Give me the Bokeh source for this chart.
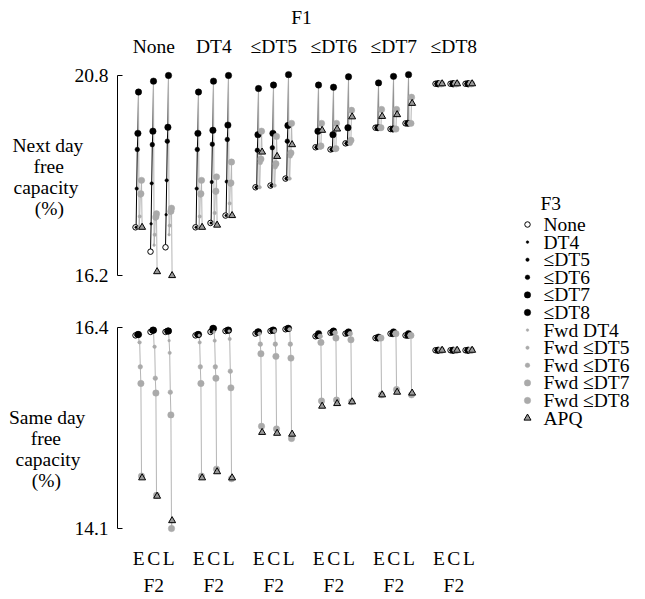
from bokeh.plotting import figure
from bokeh.models import FixedTicker, Range1d, LinearAxis
from bokeh.core.properties import value
from bokeh.layouts import row, column
from bokeh.embed import file_html
from bokeh.resources import INLINE

F1 = ["None", "DT4", "≤DT5", "≤DT6", "≤DT7", "≤DT8"]
F2 = ["E", "C", "L"]
F3 = ["None", "DT4", "≤DT5", "≤DT6", "≤DT7", "≤DT8",
      "Fwd DT4", "Fwd ≤DT5", "Fwd ≤DT6", "Fwd ≤DT7", "Fwd ≤DT8", "APQ"]
NB = "\u00a0"
# row titles (lines padded with no-break spaces so that they read centred)
ROW_LABELS = [
    "Next day\nfree" + NB * 4 + "\ncapacity" + NB + "\n(%)" + NB * 4,
    NB + "\n" + NB + "\nSame day\nfree" + NB * 5 + "\ncapacity" + NB + "\n(%)" + NB * 5,
]

# Next day free capacity (%): one array per F1 panel, rows = F3 levels, columns = F2 (E, C, L)
next_none = [
    [17.31, 16.75, 16.85], [17.31, 17.39, 17.60], [18.20, 18.32, 18.39],
    [19.10, 19.21, 19.29], [19.47, 19.52, 19.61], [20.42, 20.67, 20.80],
    [17.31, 16.90, 17.14], [17.56, 17.14, 17.35], [18.05, 17.52, 17.66],
    [18.08, 17.55, 17.68], [18.39, 17.62, 17.75], [17.31, 16.29, 16.20],
]
next_dt4 = [
    [17.31, 17.41, 17.58], [17.31, 17.41, 17.58], [18.20, 18.35, 18.36],
    [19.10, 19.22, 19.33], [19.47, 19.54, 19.66], [20.42, 20.67, 20.80],
    [17.31, 17.41, 17.58], [17.56, 17.64, 17.86], [18.05, 18.12, 18.30],
    [18.08, 18.14, 18.33], [18.39, 18.47, 18.81], [17.31, 17.36, 17.58],
]
next_dt5 = [
    [18.23, 18.27, 18.43], [18.23, 18.27, 18.43], [18.23, 18.27, 18.43],
    [19.08, 19.14, 19.29], [19.44, 19.47, 19.65], [20.50, 20.58, 20.82],
    [18.23, 18.27, 18.43], [18.23, 18.27, 18.43], [18.80, 18.70, 18.95],
    [18.88, 18.77, 19.02], [19.52, 19.40, 19.70], [19.04, 18.94, 19.21],
]
next_dt6 = [
    [19.15, 19.10, 19.24], [19.15, 19.10, 19.24], [19.15, 19.10, 19.24],
    [19.15, 19.10, 19.24], [19.52, 19.44, 19.60], [20.58, 20.53, 20.77],
    [19.15, 19.10, 19.24], [19.15, 19.10, 19.24], [19.15, 19.10, 19.24],
    [19.18, 19.12, 19.31], [19.70, 19.70, 20.00], [19.54, 19.57, 19.85],
]
next_dt7 = [
    [19.60, 19.57, 19.70], [19.60, 19.57, 19.70], [19.60, 19.57, 19.70],
    [19.60, 19.57, 19.70], [19.60, 19.57, 19.70], [20.63, 20.78, 20.82],
    [19.60, 19.57, 19.70], [19.60, 19.57, 19.70], [19.60, 19.57, 19.70],
    [19.60, 19.57, 19.70], [20.02, 20.02, 20.30], [19.86, 19.90, 20.16],
]
next_dt8 = [
    [20.61, 20.61, 20.61], [20.61, 20.61, 20.61], [20.61, 20.61, 20.61],
    [20.61, 20.61, 20.61], [20.61, 20.61, 20.61], [20.61, 20.61, 20.61],
    [20.61, 20.61, 20.61], [20.61, 20.61, 20.61], [20.61, 20.61, 20.61],
    [20.61, 20.61, 20.61], [20.61, 20.61, 20.61], [20.61, 20.61, 20.61],
]

# Same day free capacity (%)
same_none = [
    [16.31, 16.35, 16.35], [16.31, 16.36, 16.35], [16.31, 16.36, 16.36],
    [16.32, 16.36, 16.36], [16.32, 16.37, 16.36], [16.32, 16.37, 16.36],
    [16.23, 16.18, 16.25], [16.23, 16.18, 16.11], [15.95, 15.82, 15.66],
    [15.76, 15.65, 15.40], [14.70, 14.48, 14.10], [14.68, 14.47, 14.19],
]
same_dt4 = [
    [16.31, 16.35, 16.36], [16.31, 16.35, 16.36], [16.32, 16.37, 16.37],
    [16.32, 16.38, 16.37], [16.32, 16.39, 16.37], [16.32, 16.39, 16.37],
    [16.31, 16.35, 16.36], [16.23, 16.25, 16.27], [15.95, 15.95, 15.90],
    [15.76, 15.82, 15.71], [14.70, 14.78, 14.67], [14.68, 14.75, 14.68],
]
same_dt5 = [
    [16.33, 16.36, 16.38], [16.33, 16.36, 16.38], [16.33, 16.36, 16.38],
    [16.34, 16.37, 16.38], [16.35, 16.37, 16.39], [16.35, 16.37, 16.39],
    [16.33, 16.36, 16.38], [16.33, 16.36, 16.38], [16.21, 16.21, 16.21],
    [16.10, 16.07, 16.05], [15.27, 15.24, 15.13], [15.20, 15.19, 15.18],
]
same_dt6 = [
    [16.30, 16.34, 16.33], [16.30, 16.34, 16.33], [16.30, 16.34, 16.33],
    [16.30, 16.34, 16.33], [16.31, 16.35, 16.34], [16.33, 16.36, 16.35],
    [16.30, 16.34, 16.33], [16.30, 16.34, 16.33], [16.30, 16.34, 16.33],
    [16.23, 16.28, 16.26], [15.56, 15.57, 15.55], [15.50, 15.53, 15.55],
]
same_dt7 = [
    [16.28, 16.33, 16.31], [16.28, 16.33, 16.31], [16.28, 16.33, 16.31],
    [16.28, 16.33, 16.31], [16.28, 16.33, 16.31], [16.29, 16.35, 16.33],
    [16.28, 16.33, 16.31], [16.28, 16.33, 16.31], [16.28, 16.33, 16.31],
    [16.28, 16.33, 16.31], [15.63, 15.69, 15.63], [15.63, 15.66, 15.65],
]
same_dt8 = [
    [16.14, 16.14, 16.14], [16.14, 16.14, 16.14], [16.14, 16.14, 16.14],
    [16.14, 16.14, 16.14], [16.14, 16.14, 16.14], [16.14, 16.14, 16.14],
    [16.14, 16.14, 16.14], [16.14, 16.14, 16.14], [16.14, 16.14, 16.14],
    [16.14, 16.14, 16.14], [16.14, 16.14, 16.14], [16.14, 16.14, 16.14],
]

NEXT_DAY = [next_none, next_dt4, next_dt5, next_dt6, next_dt7, next_dt8]
SAME_DAY = [same_none, same_dt4, same_dt5, same_dt6, same_dt7, same_dt8]

# ---------------- styles ----------------
FONT = "Liberation Serif"
FS = "19.5px"
GRAY = "#aaaaaa"
LINE_GRAY = "#b5b5b5"
MARKERS = ["circle"] * 11 + ["triangle"]
SIZES = [5.5, 2.6, 3.4, 4.6, 6.4, 6.4, 2.6, 3.4, 4.6, 6.4, 6.4, 7.0]
FILLS = ["white"] + ["black"] * 5 + [GRAY] * 5 + ["#999999"]
LINES = ["black"] * 6 + [GRAY] * 5 + ["black"]
LWS = [1.0] + [0.5] * 10 + [1.0]
PANEL_STEP = 4
DODGE = 0.04
FRAME_W = 368
LEFT = 117
RIGHT = 5

X_RANGE = Range1d(-1.42, 23.11)


def xpos(k, j, i):
    return PANEL_STEP * k + j + (i - 5.5) * DODGE


def text_axis(ticks, labels, standoff):
    return LinearAxis(ticker=FixedTicker(ticks=ticks),
                      major_label_overrides=dict(zip(ticks, labels)),
                      axis_line_color=None, major_tick_line_color=None,
                      minor_tick_line_color=None, major_label_standoff=standoff,
                      major_label_text_font=FONT, major_label_text_font_size=FS,
                      major_label_text_color="black")


def make_row(data, y_start, y_end, frame_h, top, label, label_standoff):
    p = figure(frame_width=FRAME_W, frame_height=frame_h, x_range=X_RANGE,
               y_range=Range1d(y_start, y_end), output_backend="svg",
               toolbar_location=None, x_axis_location=None,
               min_border_left=LEFT, min_border_right=RIGHT,
               min_border_top=(0 if top else 19),
               min_border_bottom=(19 if top else 0))
    p.grid.visible = False
    p.outline_line_color = None
    p.background_fill_color = "white"
    p.border_fill_color = "white"

    # connecting lines
    x0, y0, x1, y1, col = [], [], [], [], []
    for k, panel in enumerate(data):
        for j in range(len(F2)):
            for i in range(len(F3) - 1):
                x0.append(xpos(k, j, i)); y0.append(panel[i][j])
                x1.append(xpos(k, j, i + 1)); y1.append(panel[i + 1][j])
                col.append("black" if i + 1 <= 5 else LINE_GRAY)
    p.segment(x0=x0, y0=y0, x1=x1, y1=y1, line_color=col, line_width=1)

    # points, level by level
    for i in range(len(F3)):
        xs, ys = [], []
        for k, panel in enumerate(data):
            for j in range(len(F2)):
                xs.append(xpos(k, j, i)); ys.append(panel[i][j])
        p.scatter(x=xs, y=ys, marker=MARKERS[i], size=SIZES[i],
                  fill_color=FILLS[i], line_color=LINES[i], line_width=LWS[i])

    # y axis as a range frame between the data extremes
    allv = [v for panel in data for r in panel for v in r]
    lo, hi = round(min(allv), 1), round(max(allv), 1)
    ax = p.yaxis[0]
    ax.ticker = FixedTicker(ticks=[lo, hi])
    ax.bounds = (lo, hi)
    ax.major_tick_in = 5
    ax.major_tick_out = 0
    ax.minor_tick_line_color = None
    ax.major_label_standoff = 9
    ax.axis_line_color = "black"
    ax.major_tick_line_color = "black"
    ax.major_label_text_font = FONT
    ax.major_label_text_font_size = FS
    ax.major_label_text_color = "black"
    ax.axis_label = label
    ax.axis_label_text_font = FONT
    ax.axis_label_text_font_size = FS
    ax.axis_label_text_font_style = "normal"
    ax.axis_label_text_color = "black"
    ax.axis_label_text_line_height = 1.0
    ax.axis_label_standoff = label_standoff
    try:
        ax.axis_label_orientation = "horizontal"
    except Exception:
        pass

    centers = [PANEL_STEP * k + 1 for k in range(len(F1))]
    if top:
        p.add_layout(text_axis(centers, F1, 7), "above")
        p.title.text = "F1"
        p.title.align = "center"
        p.title.text_font = FONT
        p.title.text_font_size = FS
        p.title.text_font_style = "normal"
        p.title.text_color = "black"
        p.title.standoff = 9
    else:
        cat_ticks = [PANEL_STEP * k + j for k in range(len(F1)) for j in range(len(F2))]
        p.add_layout(text_axis(cat_ticks, [F2[n % 3] for n in range(len(cat_ticks))], 8), "below")
        p.add_layout(text_axis(centers, ["F2"] * len(centers), -3), "below")
    return p


top = make_row(NEXT_DAY, 16.018, 20.938, 214, True, ROW_LABELS[0], -12)
bottom = make_row(SAME_DAY, 14.043, 16.469, 212, False, ROW_LABELS[1], -14)

# legend panel (keys and labels laid out in pixel units of its own frame)
LEG_W = 645 - (LEFT + FRAME_W + RIGHT)
LEG_H = 594
ROW_H = 17.6
FIRST_ROW = 224
leg = figure(width=LEG_W, height=LEG_H, x_range=Range1d(0, LEG_W), y_range=Range1d(LEG_H, 0),
             output_backend="svg", toolbar_location=None,
             x_axis_location=None, y_axis_location=None, min_border=0)
leg.grid.visible = False
leg.outline_line_color = None
row_y = [FIRST_ROW + ROW_H * i for i in range(len(F3))]
for i in range(len(F3)):
    leg.scatter(x=[37], y=[row_y[i]], marker=MARKERS[i], size=SIZES[i],
                fill_color=FILLS[i], line_color=LINES[i], line_width=LWS[i])
leg.text(x=[53] * len(F3), y=row_y, text=F3, text_font=value(FONT),
         text_font_size=value(FS), text_baseline="middle", text_align="left",
         text_color="black")
leg.text(x=[50], y=[FIRST_ROW - 21], text=["F3"], text_font=value(FONT),
         text_font_size=value(FS), text_baseline="middle", text_align="left",
         text_color="black")

layout = row(column(top, bottom), leg)
open("out.html", "w").write(file_html(layout, INLINE))
